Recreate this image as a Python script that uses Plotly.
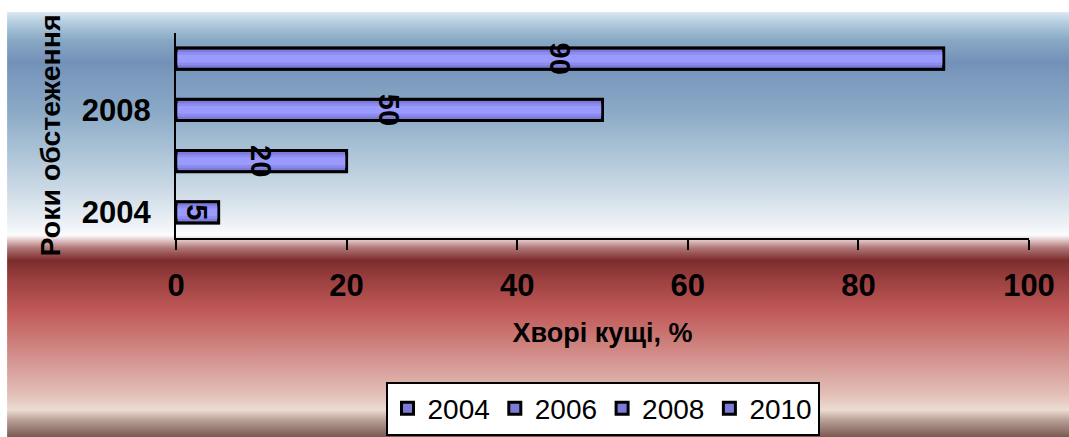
import base64
import plotly.graph_objects as go

# Survey data: share of diseased bushes by year
years = ["2004", "2006", "2008", "2010"]
diseased_pct = [5, 20, 50, 90]
x_ticks = [0, 20, 40, 60, 80, 100]
y_tick_labels = ["2004", "2008"]

FONT = "Liberation Sans, Arial, sans-serif"
BAR_W = 0.41

# Vertical background gradient (blue upper band, red lower band)
stops = [
    (0.000, "#dae8f0"), (0.024, "#b5cde0"), (0.066, "#88a8c4"),
    (0.118, "#7490b8"), (0.150, "#7a99bd"), (0.231, "#8aa9c6"),
    (0.325, "#aac2d6"), (0.419, "#ccdae6"), (0.501, "#eef2f6"),
    (0.525, "#fbfcfd"), (0.532, "#eedcdc"), (0.555, "#b07676"),
    (0.584, "#7c2c2c"), (0.631, "#9c4040"), (0.701, "#c05858"),
    (0.772, "#cc7c78"), (0.842, "#d8a09c"), (0.901, "#e2c0b8"),
    (0.936, "#ecdcd2"), (0.960, "#b8a098"), (1.000, "#7a5a50"),
]
stop_xml = "".join(
    f'<stop offset="{o}" stop-color="{c}"/>' for o, c in stops
)
svg = (
    '<svg xmlns="http://www.w3.org/2000/svg" width="100" height="425" '
    'preserveAspectRatio="none" viewBox="0 0 100 425">'
    '<defs><linearGradient id="g" x1="0" y1="0" x2="0" y2="1">'
    f"{stop_xml}</linearGradient></defs>"
    '<rect x="0" y="0" width="100" height="425" fill="url(#g)"/></svg>'
)
bg_uri = "data:image/svg+xml;base64," + base64.b64encode(svg.encode()).decode()

fig = go.Figure()

for yr, val in zip(years, diseased_pct):
    # base bar with darker edge shading
    fig.add_trace(go.Bar(
        y=[yr], x=[val], orientation="h", width=BAR_W, name=yr,
        marker=dict(color="#7c7cd8", line=dict(color="black", width=3)),
        showlegend=True, hoverinfo="skip",
    ))
    # lighter centre band
    fig.add_trace(go.Bar(
        y=[yr], x=[val], orientation="h", width=BAR_W * 0.62,
        marker=dict(color="#8c8cf0", line=dict(width=0)),
        showlegend=False, hoverinfo="skip",
    ))
    fig.add_trace(go.Bar(
        y=[yr], x=[val], orientation="h", width=BAR_W * 0.36,
        marker=dict(color="#9a9aff", line=dict(width=0)),
        showlegend=False, hoverinfo="skip",
    ))
    # outline and value label on top
    fig.add_trace(go.Bar(
        y=[yr], x=[val], orientation="h", width=BAR_W,
        marker=dict(color="rgba(0,0,0,0)", line=dict(color="black", width=2.5)),
        text=[str(val)], textposition="inside", insidetextanchor="middle",
        textangle=90, constraintext="none",
        textfont=dict(family=FONT, size=29, color="black", weight="bold"),
        showlegend=False, hoverinfo="skip",
    ))

fig.update_layout(
    width=1069, height=437,
    margin=dict(l=176, r=40, t=33, b=199, autoexpand=False),
    paper_bgcolor="white",
    plot_bgcolor="rgba(0,0,0,0)",
    barmode="overlay",
    font=dict(family=FONT, color="black"),
    images=[dict(
        source=bg_uri, xref="paper", yref="paper",
        x=-0.198, y=1.102, sizex=1.245, sizey=2.073,
        xanchor="left", yanchor="top", sizing="stretch", layer="below",
    )],
    xaxis=dict(
        range=[0, 100], tickvals=x_ticks, showgrid=False, zeroline=False,
        showline=True, linecolor="black", linewidth=2,
        ticks="outside", ticklen=10, tickwidth=2, tickcolor="black",
        tickfont=dict(family=FONT, size=31, color="black", weight="bold"),
        ticklabelstandoff=9, automargin=False,
        title=dict(text="Хворі кущі, %", standoff=21,
                   font=dict(family=FONT, size=27, color="black", weight="bold")),
        fixedrange=True,
    ),
    yaxis=dict(
        type="category", categoryorder="array", categoryarray=years,
        range=[-0.5, 3.5], tickvals=y_tick_labels, showgrid=False,
        zeroline=False, showline=True, linecolor="black", linewidth=2,
        ticks="", ticklabelstandoff=17, automargin=False,
        tickfont=dict(family=FONT, size=31, color="black", weight="bold"),
        title=dict(text="Роки обстеження", standoff=13,
                   font=dict(family=FONT, size=28.5, color="black", weight="bold")),
        fixedrange=True,
    ),
    legend=dict(
        orientation="h", x=0.5, xanchor="center", y=-0.70, yanchor="top",
        bgcolor="white", bordercolor="black", borderwidth=2,
        font=dict(family=FONT, size=28, color="black"),
        itemwidth=30, tracegroupgap=0,
    ),
)

fig.write_html("out.html", config={"displayModeBar": False})
